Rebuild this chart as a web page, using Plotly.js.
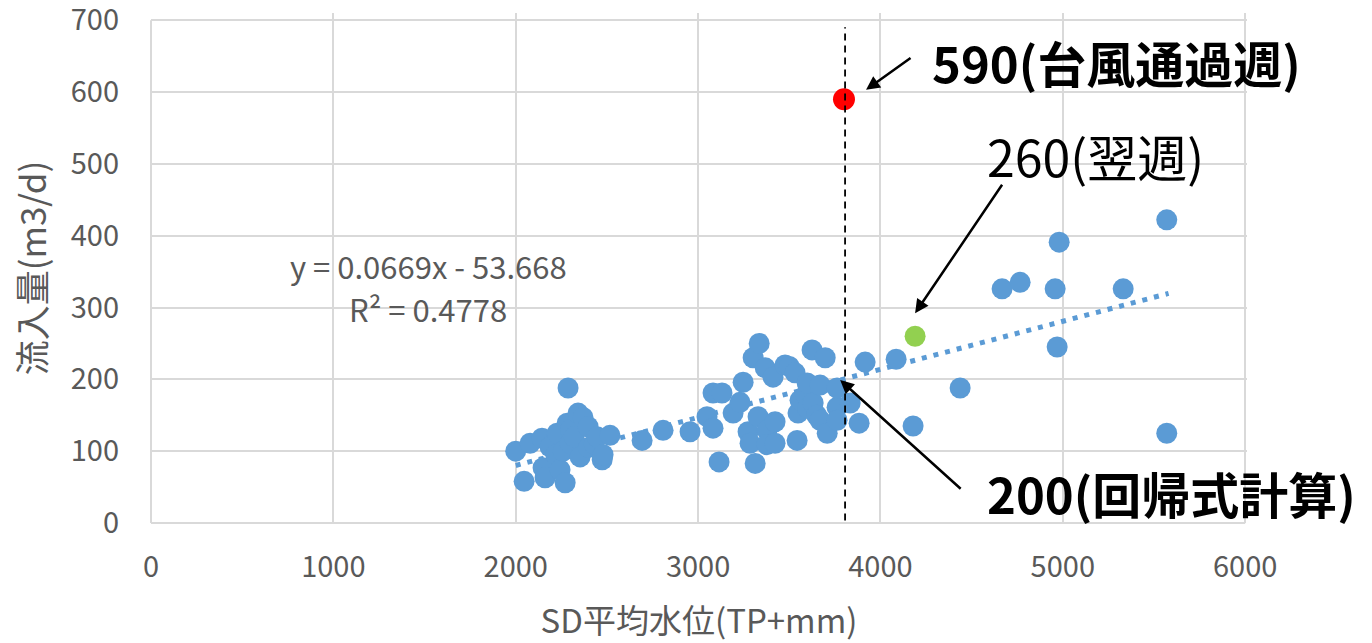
<!DOCTYPE html>
<html>
<head>
<meta charset="utf-8">
<script src="https://cdn.plot.ly/plotly-3.0.1.min.js"></script>
<style>html,body{margin:0;padding:0;background:#fff;}#chart{width:1372px;height:643px;}</style>
</head>
<body>
<div id="chart"></div>
<script>
// Blue observation points: SD mean water level (TP+mm) vs inflow (m3/d)
var blueX = [2000,2046,2079,2144,2150,2161,2188,2220,2227,2243,2260,2271,2282,2287,2298,2300,2320,2342,2353,2369,2397,2400,2430,2446,2474,2479,2517,2693,2808,2956,
  3049,3082,3082,3115,3131,3192,3230,3247,3274,3285,3302,3313,3329,3335,3368,3378,3378,3411,3422,3422,3477,3500,3532,3543,3548,3559,3590,3598,3600,3625,3631,3650,3669,3669,3697,3708,3762,3762,3762,3834,3883,3916,
  4086,4179,4437,4667,4766,4958,4969,4980,5331,5570,5570];
var blueY = [100,58,111,118,77,63,106,95,125,74,100,56,139,188,111,130,120,153,92,147,134,105,110,120,88,95,122,115,129,127,
  148,181,132,85,181,153,168,196,127,111,230,83,148,250,216,129,109,203,141,111,220,218,209,115,153,171,178,195,160,241,167,150,192,143,230,125,161,143,188,167,139,224,
  228,135,188,326,335,326,245,391,326,422,125];
// Highlighted weeks
var redX = [3800], redY = [590];      // typhoon week
var greenX = [4190], greenY = [260];  // following week
// Linear trendline endpoints (y = 0.0669x - 53.668)
var trendX = [2000, 5580];
var trendY = [80.1, 319.6];
// Axis ticks
var xTicks = [0,1000,2000,3000,4000,5000,6000];
var yTicks = [0,100,200,300,400,500,600,700];
var refX = 3806; // vertical dashed reference

var jp = "'Noto Sans CJK JP', 'Noto Sans', sans-serif";
var grey = '#595959';

var traces = [
  {x: trendX, y: trendY, mode: 'lines', line: {color: '#5B9BD5', width: 5, dash: '5px,7px'}, hoverinfo: 'skip'},
  {x: blueX, y: blueY, mode: 'markers', marker: {color: '#5B9BD5', size: 21, line: {width: 0}}},
  {x: redX, y: redY, mode: 'markers', marker: {color: '#FF0000', size: 22, line: {width: 0}}},
  {x: greenX, y: greenY, mode: 'markers', marker: {color: '#92D050', size: 21, line: {width: 0}}}
];

var arrow = {text: '', showarrow: true, arrowhead: 2, arrowsize: 1.1, arrowwidth: 2.5, arrowcolor: '#000', xref: 'x', yref: 'y', axref: 'pixel', ayref: 'pixel'};
function A(o){ return Object.assign({}, arrow, o); }

var layout = {
  width: 1372, height: 643,
  margin: {l: 151, r: 125, t: 12.8, b: 120},
  paper_bgcolor: '#fff', plot_bgcolor: '#fff',
  showlegend: false,
  font: {family: jp, color: grey, size: 29},
  xaxis: {
    range: [0, 6010], tickvals: xTicks, ticktext: xTicks.map(String),
    showgrid: true, gridcolor: '#D9D9D9', gridwidth: 2,
    zeroline: false, showline: false, ticks: '', ticklabelstandoff: 24,
    ticklabeloverflow: 'allow',
    tickfont: {size: 29, color: grey, family: jp},
    title: {text: 'SD平均水位(TP+mm)', font: {size: 33, color: grey, family: jp}, standoff: 40}
  },
  yaxis: {
    range: [0, 710], tickvals: yTicks, ticktext: yTicks.map(String),
    showgrid: true, gridcolor: '#D9D9D9', gridwidth: 2,
    zeroline: false, showline: false, ticks: '', ticklabelstandoff: 31,
    ticklabeloverflow: 'allow',
    tickfont: {size: 29, color: grey, family: jp},
    title: {text: '流入量(m3/d)', font: {size: 35, color: grey, family: jp}, standoff: 13}
  },
  shapes: [
    {type: 'line', xref: 'paper', yref: 'y', x0: 0, x1: 0, y0: 0, y1: 700, line: {color: '#D9D9D9', width: 2}},
    {type: 'line', xref: 'x', yref: 'paper', x0: 0, x1: 6000, y0: 0, y1: 0, line: {color: '#D9D9D9', width: 2}},
    {type: 'line', xref: 'x', yref: 'y', x0: refX, x1: refX, y0: -30, y1: 690, layer: 'above', line: {color: '#000', width: 1.8, dash: '7px,5px'}}
  ],
  annotations: [
    A({x: 3921, y: 603, ax: 46, ay: -33}),
    A({x: 4190, y: 292, ax: 88, ay: -130}),
    A({x: 3779, y: 199, ax: 122, ay: 110}),
    {x: 4272, y: 643, xref: 'x', yref: 'y', text: '<b>590(台風通過週)</b>', showarrow: false, xanchor: 'left', yanchor: 'middle', font: {size: 49, color: '#000', family: jp}},
    {x: 4574, y: 513, xref: 'x', yref: 'y', text: '260(翌週)', showarrow: false, xanchor: 'left', yanchor: 'middle', font: {size: 50, color: '#000', family: jp}},
    {x: 4574, y: 43, xref: 'x', yref: 'y', text: '<b>200(回帰式計算)</b>', showarrow: false, xanchor: 'left', yanchor: 'middle', font: {size: 49, color: '#000', family: jp}},
    {x: 1520, y: 358, xref: 'x', yref: 'y', text: 'y = 0.0669x - 53.668', showarrow: false, xanchor: 'center', yanchor: 'middle', font: {size: 31, color: grey, family: jp}},
    {x: 1520, y: 298, xref: 'x', yref: 'y', text: 'R² = 0.4778', showarrow: false, xanchor: 'center', yanchor: 'middle', font: {size: 31, color: grey, family: jp}}
  ]
};

Plotly.newPlot('chart', traces, layout, {displayModeBar: false, staticPlot: true});
</script>
</body>
</html>
